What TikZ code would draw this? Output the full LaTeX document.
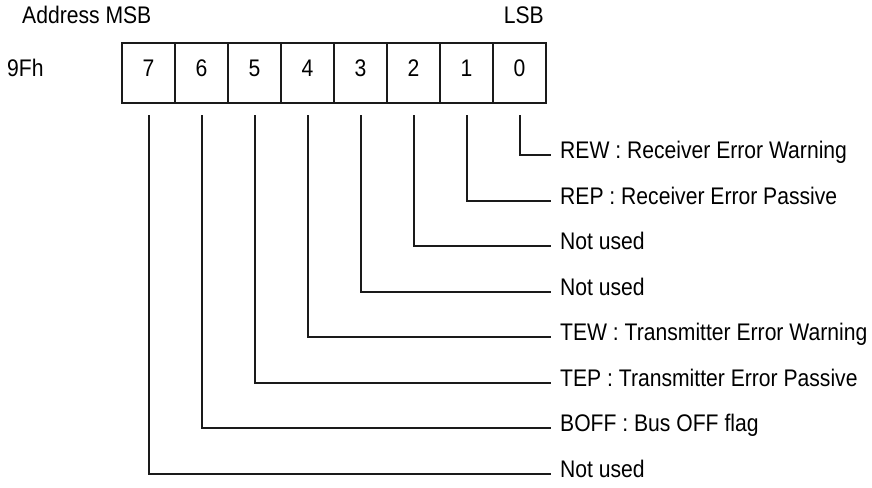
\documentclass[tikz,border=0pt]{standalone}
\usepackage{fontspec}
\setmainfont{Liberation Sans}[FakeStretch=0.88]
\usetikzlibrary{positioning}

\definecolor{Ink}{HTML}{1A1A1A}

\tikzset{
  bitcell/.style={draw=Ink, line width=2, minimum width=53, minimum height=60, outer sep=0, inner sep=0, text height=1.38ex, text depth=0pt},
  tag/.style={inner sep=0, text height=1.38ex, text depth=0pt},
  bitlabel/.style={anchor=west, inner xsep=9, inner ysep=0, text height=1.38ex, text depth=0pt},
  bitline/.style={draw=Ink, line width=2, shorten <=12},
}

\begin{document}
\begin{tikzpicture}[x=1pt, y=-1pt, font=\fontsize{24}{28}\selectfont]
 \useasboundingbox (0,0) rectangle (872,487);

 %%%%%%%%%% Register 9Fh %%%%%%%%%%
 \node [bitcell] (b7) at (148.5,73) {7};
 \node [bitcell, right=0 of b7] (b6) {6};
 \node [bitcell, right=0 of b6] (b5) {5};
 \node [bitcell, right=0 of b5] (b4) {4};
 \node [bitcell, right=0 of b4] (b3) {3};
 \node [bitcell, right=0 of b3] (b2) {2};
 \node [bitcell, right=0 of b2] (b1) {1};
 \node [bitcell, right=0 of b1] (b0) {0};

 %%%%%%%%%% Header texts %%%%%%%%%%
 \node [tag, anchor=west] (addr) at (22,20) {Address MSB};
 \node [tag, anchor=east] (lsb) at (544,20) {LSB};
 \node [tag, anchor=west] (reg) at (7,73) {9Fh};

 %%%%%%%%%% Bit meanings %%%%%%%%%%
 \node [bitlabel] (l0) at (551,155) {REW : Receiver Error Warning};
 \node [bitlabel] (l1) at (551,200.5) {REP : Receiver Error Passive};
 \node [bitlabel] (l2) at (551,246) {Not used};
 \node [bitlabel] (l3) at (551,291.5) {Not used};
 \node [bitlabel] (l4) at (551,337) {TEW : Transmitter Error Warning};
 \node [bitlabel] (l5) at (551,382.5) {TEP : Transmitter Error Passive};
 \node [bitlabel] (l6) at (551,428) {BOFF : Bus OFF flag};
 \node [bitlabel] (l7) at (551,473.5) {Not used};

 %%%%%%%%%% Leader lines %%%%%%%%%%
 \draw [bitline] (b0.south) |- (l0.west);
 \draw [bitline] (b1.south) |- (l1.west);
 \draw [bitline] (b2.south) |- (l2.west);
 \draw [bitline] (b3.south) |- (l3.west);
 \draw [bitline] (b4.south) |- (l4.west);
 \draw [bitline] (b5.south) |- (l5.west);
 \draw [bitline] (b6.south) |- (l6.west);
 \draw [bitline] (b7.south) |- (l7.west);

\end{tikzpicture}
\end{document}
